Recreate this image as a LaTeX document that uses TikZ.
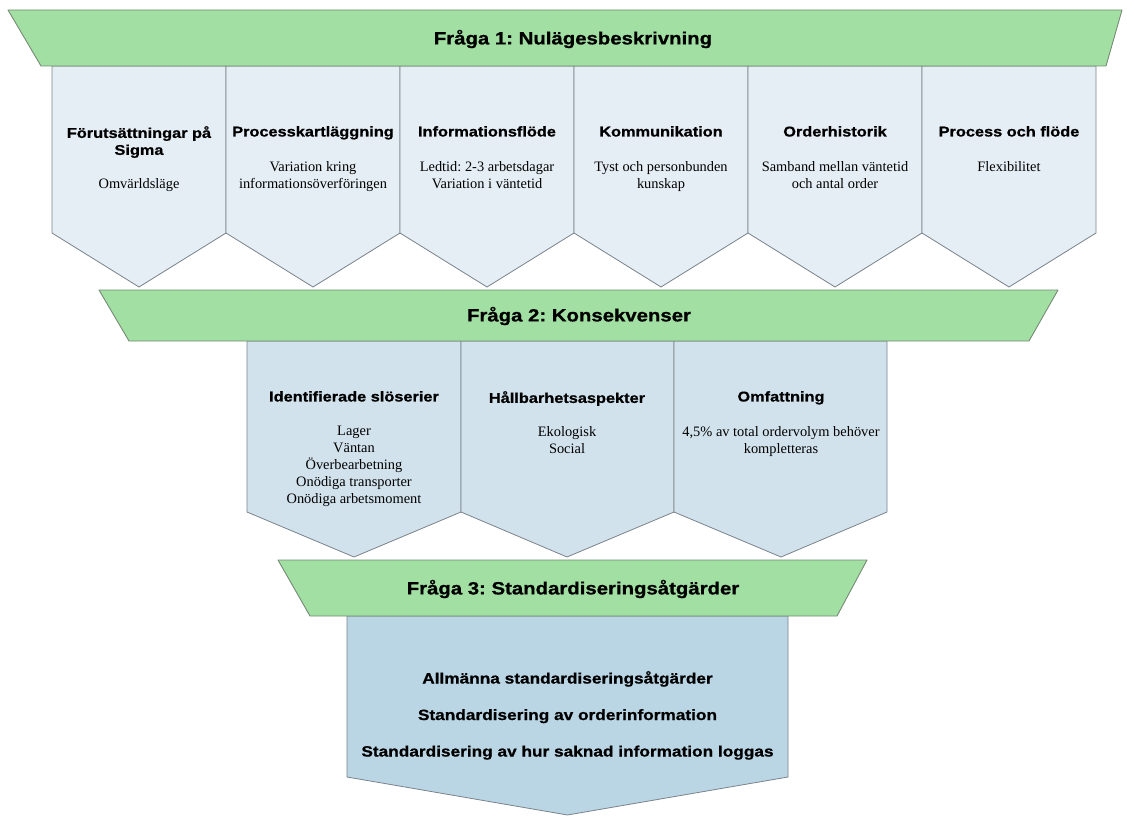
\documentclass[tikz,border=0pt]{standalone}
\usepackage{fontspec}
\setmainfont{Liberation Serif}
\setsansfont{Liberation Sans}[FakeStretch=1.15, BoldFeatures={FakeBold=0.8}]
\usepackage{tikz}
\frenchspacing

\definecolor{bannergreen}{RGB}{161,223,162}
\definecolor{bannerline}{RGB}{118,138,118}
\definecolor{boxline}{RGB}{122,130,138}
\definecolor{rowone}{RGB}{230,238,245}
\definecolor{rowtwo}{RGB}{209,226,236}
\definecolor{rowthree}{RGB}{186,214,229}

\tikzset{
  banner/.style={fill=bannergreen, draw=bannerline, line width=0.9pt, line join=round},
  chevron/.style={draw=boxline, line width=0.8pt},
  bannertext/.style={font=\sffamily\bfseries\fontsize{17.7}{21}\selectfont, inner sep=0pt},
  boxtitle/.style={font=\sffamily\bfseries\fontsize{14.2}{17}\selectfont, align=center, anchor=north, inner sep=0pt},
  boxtext/.style={font=\fontsize{14.4}{17}\selectfont, align=center, anchor=north, inner sep=0pt},
}

\begin{document}
\begin{tikzpicture}[x=1pt,y=-1pt]
\useasboundingbox (0,0) rectangle (1127,816);

% Fraga 1
\draw[chevron, fill=rowone] (52,66) -- (226,66) -- (226,233) -- (139,287) -- (52,233) -- cycle;
\draw[chevron, fill=rowone] (226,66) -- (400,66) -- (400,233) -- (313,287) -- (226,233) -- cycle;
\draw[chevron, fill=rowone] (400,66) -- (574,66) -- (574,233) -- (487,287) -- (400,233) -- cycle;
\draw[chevron, fill=rowone] (574,66) -- (748,66) -- (748,233) -- (661,287) -- (574,233) -- cycle;
\draw[chevron, fill=rowone] (748,66) -- (922,66) -- (922,233) -- (835,287) -- (748,233) -- cycle;
\draw[chevron, fill=rowone] (922,66) -- (1096,66) -- (1096,233) -- (1009,287) -- (922,233) -- cycle;

\draw[banner] (8,10) -- (1122,10) -- (1106,66) -- (41,66) -- cycle;
\node[bannertext] (q1) at (573,39) {Fråga 1: Nulägesbeskrivning};

\node[boxtitle] (forut) at (139,126) {Förutsättningar på\\Sigma};
\node[boxtext] (forutT) at (139,178) {Omvärldsläge};
\node[boxtitle] (kart) at (313,126) {Processkartläggning};
\node[boxtext] (kartT) at (313,161) {Variation kring\\informationsöverföringen};
\node[boxtitle] (info) at (487,126) {Informationsflöde};
\node[boxtext] (infoT) at (487,161) {Ledtid: 2-3 arbetsdagar\\Variation i väntetid};
\node[boxtitle] (komm) at (661,126) {Kommunikation};
\node[boxtext] (kommT) at (661,161) {Tyst och personbunden\\kunskap};
\node[boxtitle] (order) at (835,126) {Orderhistorik};
\node[boxtext] (orderT) at (835,161) {Samband mellan väntetid\\och antal order};
\node[boxtitle] (flode) at (1009,126) {Process och flöde};
\node[boxtext] (flodeT) at (1009,161) {Flexibilitet};

% Fraga 2
\draw[chevron, fill=rowtwo] (247,341) -- (461,341) -- (461,512) -- (354,557) -- (247,512) -- cycle;
\draw[chevron, fill=rowtwo] (461,341) -- (674,341) -- (674,512) -- (567,557) -- (461,512) -- cycle;
\draw[chevron, fill=rowtwo] (674,341) -- (887,341) -- (887,512) -- (781,557) -- (674,512) -- cycle;

\draw[banner] (99,290) -- (1058,290) -- (1029,341) -- (129,341) -- cycle;
\node[bannertext] (q2) at (579,316) {Fråga 2: Konsekvenser};

\node[boxtitle] (slos) at (354,391) {Identifierade slöserier};
\node[boxtext] (slosT) at (354,426) {Lager\\Väntan\\Överbearbetning\\Onödiga transporter\\Onödiga arbetsmoment};
\node[boxtitle] (hall) at (567,391) {Hållbarhetsaspekter};
\node[boxtext] (hallT) at (567,426) {Ekologisk\\Social};
\node[boxtitle] (omf) at (781,391) {Omfattning};
\node[boxtext] (omfT) at (781,426) {4,5\% av total ordervolym behöver\\kompletteras};

% Fraga 3
\draw[chevron, fill=rowthree] (347,616) -- (788,616) -- (788,777) -- (567.5,815) -- (347,777) -- cycle;

\draw[banner] (278,560) -- (867,560) -- (837,616) -- (310,616) -- cycle;
\node[bannertext] (q3) at (573,589) {Fråga 3: Standardiseringsåtgärder};

\node[boxtitle, font=\sffamily\bfseries\fontsize{15}{36.5}\selectfont] (atg) at (567.5,671)
  {Allmänna standardiseringsåtgärder\\Standardisering av orderinformation\\Standardisering av hur saknad information loggas};

\end{tikzpicture}
\end{document}
